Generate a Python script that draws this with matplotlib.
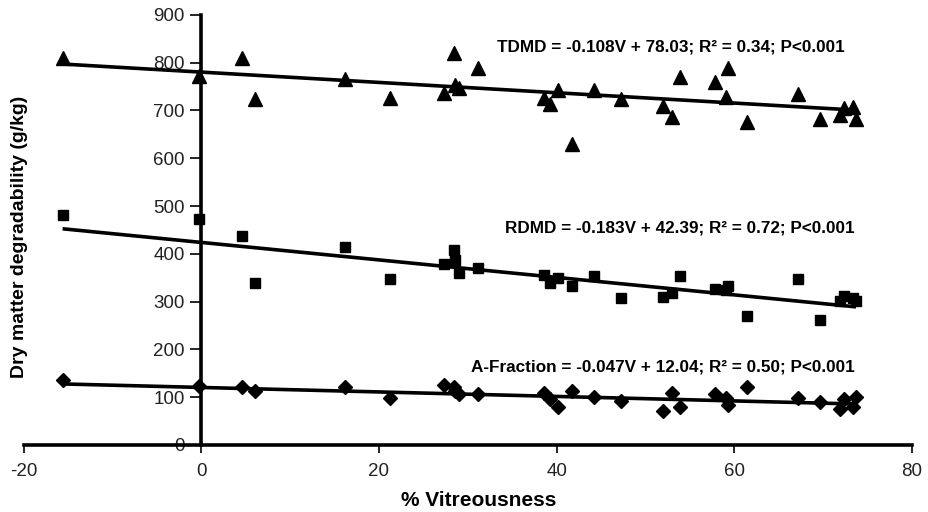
import numpy as np
import matplotlib
matplotlib.use("Agg")
import matplotlib.pyplot as plt

plt.rcParams["font.family"] = ["Liberation Sans", "DejaVu Sans"]
plt.rcParams["axes.unicode_minus"] = False

# ---------------------------------------------------------------------------
# Data (% vitreousness shared by all three series)
# ---------------------------------------------------------------------------
vitreousness = [-15.6, -0.3, 4.6, 6.0, 16.2, 21.3, 27.3, 28.4, 28.6, 29.0,
                31.2, 38.6, 39.3, 40.2, 41.7, 44.2, 47.2, 52.0, 53.0, 53.9,
                57.8, 59.1, 59.3, 61.4, 67.2, 69.6, 71.9, 72.4, 73.4, 73.7]

tdmd = [810, 772, 810, 724, 766, 726, 736, 820, 753, 747,
        789, 726, 714, 743, 630, 743, 724, 709, 686, 770,
        760, 728, 789, 676, 735, 682, 691, 705, 707, 682]

rdmd = [481, 472, 437, 340, 415, 347, 378, 408, 387, 359,
        370, 356, 340, 349, 333, 354, 307, 310, 319, 354,
        326, 324, 333, 270, 347, 262, 302, 312, 307, 302]

a_fraction = [135, 124, 121, 112, 121, 98, 126, 121, 112, 106,
              107, 108, 96, 79, 114, 101, 91, 72, 109, 79,
              107, 98, 84, 121, 98, 89, 75, 96, 79, 100]

# published regressions (% units) -> g/kg
fits = {
    "TDMD": (-0.108, 78.03, "0.34"),
    "RDMD": (-0.183, 42.39, "0.72"),
    "A-Fraction": (-0.047, 12.04, "0.50"),
}

series = [
    ("TDMD", tdmd, "^", 9.5, (52.9, 833)),
    ("RDMD", rdmd, "s", 7.5, (53.9, 454)),
    ("A-Fraction", a_fraction, "D", 7.0, (52.0, 163)),
]

fig = plt.figure(figsize=(9.29, 5.12), dpi=100)
ax = fig.add_axes([0.0253, 0.1309, 0.9564, 0.84])

v = np.array(vitreousness)
xline = np.array([v.min(), v.max()])
for name, vals, marker, ms, pos in series:
    ax.plot(v, vals, linestyle="none", marker=marker, markersize=ms,
            color="black", zorder=3)
    slope, icpt, r2 = fits[name]
    ax.plot(xline, (icpt + slope * xline) * 10, color="black",
            linewidth=2.6, zorder=2, solid_capstyle="butt")
    label = f"{name} = {slope:.3f}V + {icpt:.2f}; R\u00b2 = {r2}; P<0.001"
    ax.text(pos[0], pos[1], label, ha="center", va="center",
            fontsize=12.3, fontweight="bold", color="black", zorder=4)

ax.set_xlim(-20, 80)
ax.set_ylim(0, 900)
ax.set_xticks([-20, 0, 20, 40, 60, 80])
ax.set_yticks(range(0, 901, 100))

ax.spines["top"].set_visible(False)
ax.spines["right"].set_visible(False)
ax.spines["left"].set_position(("data", 0))
ax.spines["bottom"].set_position(("data", 0))
for s in ("left", "bottom"):
    ax.spines[s].set_linewidth(2.6)

ax.tick_params(axis="y", direction="out", length=8, width=1.2,
               labelsize=13.5, pad=4, labelcolor="#222222")
ax.tick_params(axis="x", direction="out", length=6, width=1.2,
               labelsize=13.5, pad=7, labelcolor="#222222")

fig.text(0.5156, 0.0234, "% Vitreousness", fontsize=15, fontweight="bold",
         ha="center", va="center")
fig.text(0.0205, 0.537, "Dry matter degradability (g/kg)", fontsize=14,
         fontweight="bold", rotation=90, ha="center", va="center")

fig.savefig("out.png", dpi=100)
